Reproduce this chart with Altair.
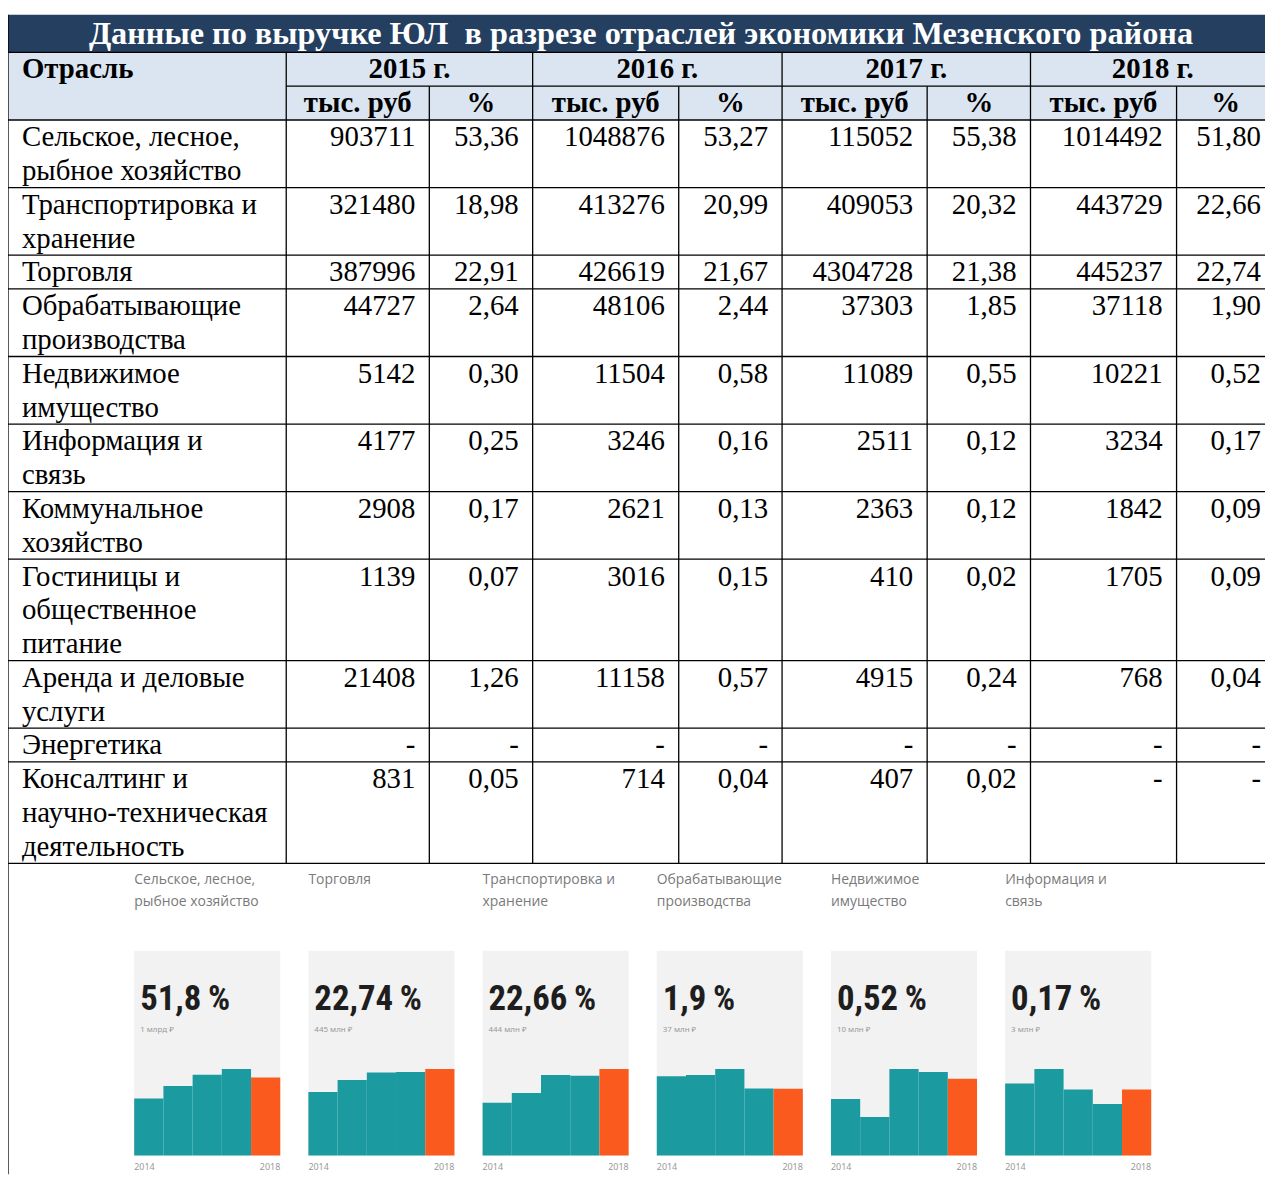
import altair as alt
import pandas as pd

# ---------------- data ----------------
title = "Данные по выручке ЮЛ\u00a0 в разрезе отраслей экономики Мезенского района"
first_header = "Отрасль"
years = ["2015 г.", "2016 г.", "2017 г.", "2018 г."]
sub_headers = ["тыс. руб", "%"]

industries = [
    ["Сельское, лесное,", "рыбное хозяйство"],
    ["Транспортировка и", "хранение"],
    ["Торговля"],
    ["Обрабатывающие", "производства"],
    ["Недвижимое", "имущество"],
    ["Информация и", "связь"],
    ["Коммунальное", "хозяйство"],
    ["Гостиницы и", "общественное", "питание"],
    ["Аренда и деловые", "услуги"],
    ["Энергетика"],
    ["Консалтинг и", "научно-техническая", "деятельность"],
]

rub_2015 = [903711, 321480, 387996, 44727, 5142, 4177, 2908, 1139, 21408, None, 831]
pct_2015 = [53.36, 18.98, 22.91, 2.64, 0.30, 0.25, 0.17, 0.07, 1.26, None, 0.05]
rub_2016 = [1048876, 413276, 426619, 48106, 11504, 3246, 2621, 3016, 11158, None, 714]
pct_2016 = [53.27, 20.99, 21.67, 2.44, 0.58, 0.16, 0.13, 0.15, 0.57, None, 0.04]
rub_2017 = [115052, 409053, 4304728, 37303, 11089, 2511, 2363, 410, 4915, None, 407]
pct_2017 = [55.38, 20.32, 21.38, 1.85, 0.55, 0.12, 0.12, 0.02, 0.24, None, 0.02]
rub_2018 = [1014492, 443729, 445237, 37118, 10221, 3234, 1842, 1705, 768, None, None]
pct_2018 = [51.80, 22.66, 22.74, 1.90, 0.52, 0.17, 0.09, 0.09, 0.04, None, None]

mini_titles = [
    ["Сельское, лесное,", "рыбное хозяйство"],
    ["Торговля"],
    ["Транспортировка и", "хранение"],
    ["Обрабатывающие", "производства"],
    ["Недвижимое", "имущество"],
    ["Информация и", "связь"],
]
mini_share = ["51,8\u2009%", "22,74\u2009%", "22,66\u2009%", "1,9\u2009%", "0,52\u2009%", "0,17\u2009%"]
mini_sub = ["1 млрд ₽", "445 млн ₽", "444 млн ₽", "37 млн ₽", "10 млн ₽", "3 млн ₽"]
mini_years = [2014, 2015, 2016, 2017, 2018]
mini_values = [  # млн ₽
    [741, 904, 1049, 1125, 1014],
    [327, 388, 427, 430, 445],
    [270, 321, 413, 409, 444],
    [44.0, 44.7, 48.1, 37.3, 37.1],
    [7.5, 5.1, 11.5, 11.1, 10.2],
    [3.5, 4.2, 3.2, 2.5, 3.2],
]

# ---------------- layout ----------------
W, H = 1265, 1170
OX, OY = 8, 8
NAVY = "#243f60"
HEAD = "#dbe5f1"
TEAL = "#1b9aa0"
ORANGE = "#fa5a1e"
SERIF = "Liberation Serif"
FS = 29
COND = "Liberation Sans Narrow, Roboto Condensed, Roboto"

col_edges = [8, 288, 432, 536, 683, 787, 933, 1037, 1184, 1283]
title_top, title_bot, h1_bot, h2_bot = 11, 49, 83, 117
line_h = 34
row_tops = [h2_bot]
for lines in industries:
    row_tops.append(row_tops[-1] + line_h * len(lines))
table_bot = row_tops[-1]

def xs():
    return alt.Scale(domain=[OX, OX + W], range=[0, W], nice=False, zero=False)

def ys():
    return alt.Scale(domain=[OY, OY + H], range=[0, H], nice=False, zero=False)

def enc_xy(has2=False):
    e = dict(x=alt.X("x:Q", scale=xs(), axis=None), y=alt.Y("y:Q", scale=ys(), axis=None))
    if has2:
        e["x2"] = "x2:Q"
        e["y2"] = "y2:Q"
    return e

def fmt_rub(v):
    return "-" if v is None else str(v)

def fmt_pct(v):
    return "-" if v is None else f"{v:.2f}".replace(".", ",")

layers = []

# background rects
panel_left0, panel_step, panel_w = 135, 175.3, 147
panel_top, panel_bot, bar_h = 953, 1159, 87
rects = [
    dict(x=OX, x2=OX + W, y=title_top, y2=title_bot, c=NAVY),
    dict(x=OX, x2=OX + W, y=title_bot, y2=h2_bot, c=HEAD),
]
for i in range(len(mini_titles)):
    l = panel_left0 + panel_step * i
    rects.append(dict(x=l, x2=l + panel_w, y=panel_top, y2=panel_bot, c="#f2f2f2"))
layers.append(alt.Chart(pd.DataFrame(rects)).mark_rect().encode(
    color=alt.Color("c:N", scale=None), **enc_xy(True)))

# grid lines
rules = []
for yy in [title_bot, h2_bot] + row_tops[1:]:
    rules.append(dict(x=OX, x2=OX + W, y=yy, y2=yy))
rules.append(dict(x=col_edges[1], x2=OX + W, y=h1_bot, y2=h1_bot))
rules.append(dict(x=OX, x2=OX, y=title_top, y2=OY + H))
for j in range(1, len(col_edges) - 1):
    top = title_bot if j % 2 == 1 else h1_bot
    rules.append(dict(x=col_edges[j], x2=col_edges[j], y=top, y2=table_bot))
layers.append(alt.Chart(pd.DataFrame(rules)).mark_rule(color="black", strokeWidth=1.3).encode(**enc_xy(True)))

# title
layers.append(alt.Chart(pd.DataFrame([dict(x=645, y=title_bot - 8, t=title)])).mark_text(
    font=SERIF, fontSize=32.5, fontWeight="bold", color="white", align="center", baseline="alphabetic"
).encode(text="t:N", **enc_xy()))

# header texts
hdr = [dict(x=(col_edges[1 + 2 * k] + col_edges[3 + 2 * k]) / 2, y=h1_bot - 8, t=years[k]) for k in range(4)]
for j in range(1, len(col_edges) - 1):
    hdr.append(dict(x=(col_edges[j] + col_edges[j + 1]) / 2, y=h2_bot - 8.5, t=sub_headers[(j - 1) % 2]))
layers.append(alt.Chart(pd.DataFrame(hdr)).mark_text(
    font=SERIF, fontSize=FS, fontWeight="bold", color="black", align="center", baseline="alphabetic"
).encode(text="t:N", **enc_xy()))
layers.append(alt.Chart(pd.DataFrame([dict(x=22, y=h1_bot - 8, t=first_header)])).mark_text(
    font=SERIF, fontSize=FS, fontWeight="bold", color="black", align="left", baseline="alphabetic"
).encode(text="t:N", **enc_xy()))

# industry names
names = []
for r, lines in enumerate(industries):
    for k, s in enumerate(lines):
        names.append(dict(x=22, y=row_tops[r] + 26.5 + k * line_h, t=s))
layers.append(alt.Chart(pd.DataFrame(names)).mark_text(
    font=SERIF, fontSize=FS, color="black", align="left", baseline="alphabetic"
).encode(text="t:N", **enc_xy()))

# values
cols = [rub_2015, pct_2015, rub_2016, pct_2016, rub_2017, pct_2017, rub_2018, pct_2018]
cells = []
for j, col in enumerate(cols):
    right = col_edges[j + 2] - 14
    for r, v in enumerate(col):
        t = fmt_rub(v) if j % 2 == 0 else fmt_pct(v)
        cells.append(dict(x=right, y=row_tops[r] + 26.5, t=t))
layers.append(alt.Chart(pd.DataFrame(cells)).mark_text(
    font=SERIF, fontSize=FS, color="black", align="right", baseline="alphabetic"
).encode(text="t:N", **enc_xy()))

# mini chart texts
mt, ms, msub, yl, yr = [], [], [], [], []
for i in range(len(mini_titles)):
    l = panel_left0 + panel_step * i
    for k, s in enumerate(mini_titles[i]):
        mt.append(dict(x=l, y=886 + k * 22, t=s))
    ms.append(dict(x=l + 6, y=1013, t=mini_share[i]))
    msub.append(dict(x=l + 6, y=1035, t=mini_sub[i]))
    yl.append(dict(x=l, y=1174, t=str(mini_years[0])))
    yr.append(dict(x=l + panel_w, y=1174, t=str(mini_years[-1])))
layers.append(alt.Chart(pd.DataFrame(mt)).mark_text(
    font="Open Sans", fontSize=14, color="#7a7a7a", align="left", baseline="alphabetic"
).encode(text="t:N", **enc_xy()))
layers.append(alt.Chart(pd.DataFrame(ms)).mark_text(
    font=COND, fontSize=35, fontWeight="bold", color="#1e1e1e", align="left", baseline="alphabetic"
).encode(text="t:N", **enc_xy()))
layers.append(alt.Chart(pd.DataFrame(msub)).mark_text(
    font="Noto Sans", fontSize=8, color="#999999", align="left", baseline="alphabetic"
).encode(text="t:N", **enc_xy()))
layers.append(alt.Chart(pd.DataFrame(yl)).mark_text(
    font="Noto Sans", fontSize=9, color="#999999", align="left", baseline="alphabetic"
).encode(text="t:N", **enc_xy()))
layers.append(alt.Chart(pd.DataFrame(yr)).mark_text(
    font="Noto Sans", fontSize=9, color="#999999", align="right", baseline="alphabetic"
).encode(text="t:N", **enc_xy()))

# mini bar charts (own scales each)
for i, vals in enumerate(mini_values):
    l = panel_left0 + panel_step * i
    df = pd.DataFrame({"year": mini_years, "value": vals})
    df["year_end"] = df["year"] + 1
    df["base"] = 0
    df["c"] = [ORANGE if yv == mini_years[-1] else TEAL for yv in mini_years]
    layers.append(alt.Chart(df).mark_rect(stroke=None).encode(
        x=alt.X("year:Q", scale=alt.Scale(domain=[mini_years[0], mini_years[-1] + 1],
                                          range=[l - OX, l + panel_w - OX], nice=False, zero=False), axis=None),
        x2="year_end:Q",
        y=alt.Y("value:Q", scale=alt.Scale(domain=[0, max(vals)],
                                           range=[panel_bot - OY, panel_bot - bar_h - OY], nice=False, zero=True), axis=None),
        y2="base:Q",
        color=alt.Color("c:N", scale=None),
    ))

chart = alt.layer(*layers).resolve_scale(x="independent", y="independent").properties(
    width=W, height=H, padding=0, autosize=alt.AutoSizeParams(type="none")
).configure_view(stroke=None)

chart.save("out.html", embed_options={"renderer": "svg", "actions": False})
